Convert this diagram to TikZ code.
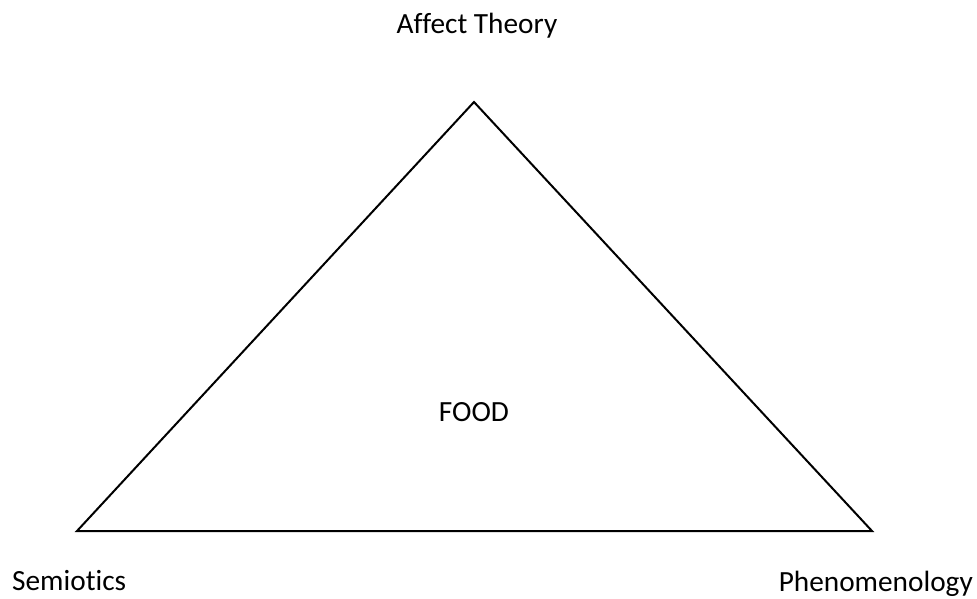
\documentclass[tikz,border=0pt]{standalone}
\usepackage{fontspec}
\setmainfont{Carlito}[Ligatures={NoCommon}]
\usetikzlibrary{positioning}

\begin{document}
\begin{tikzpicture}[
  x=1pt, y=-1pt,
  label/.style = {inner sep=0pt, anchor=base, font=\fontsize{29.3}{35}\selectfont},
  edge/.style = {line width=2pt, line join=miter}
]
\useasboundingbox (0,0) rectangle (977,598);

% Corners of the triangle
\coordinate (top) at (474,102);
\coordinate (left) at (77,531);
\coordinate (right) at (872,531);

\draw[edge] (top) -- (left) -- (right) -- cycle;

% Labels
\node[label] (affect) at (477,33) {Affect Theory};
\node[label] (food) at (474,421) {FOOD};
\node[label, anchor=base west] (semiotics) at (12,590) {Semiotics};
\node[label, anchor=base east] (phenomenology) at (973,591) {Phenomenology};
\end{tikzpicture}
\end{document}
